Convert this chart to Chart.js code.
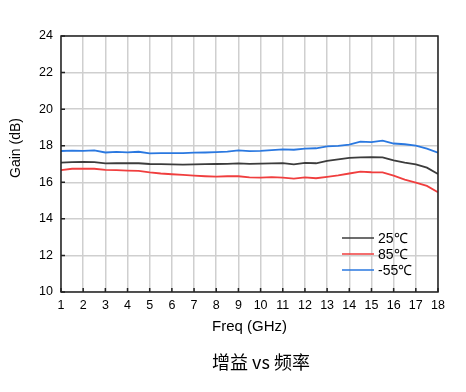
<!DOCTYPE html>
<html>
<head>
<meta charset="utf-8">
<script src="https://cdn.jsdelivr.net/npm/chart.js@4"></script>
<style>
    body { margin: 0; background: #fff; }
    canvas { display: block; }
</style>
</head>
<body>
<canvas id="gainChart" width="466" height="392"></canvas>
<script>
// frequency points (GHz)
const freqs = [1, 1.5, 2, 2.5, 3, 3.5, 4, 4.5, 5, 5.5, 6, 6.5, 7, 7.5, 8, 8.5, 9, 9.5,
    10, 10.5, 11, 11.5, 12, 12.5, 13, 13.5, 14, 14.5, 15, 15.5, 16, 16.5, 17, 17.5, 18];

// gain (dB)
const gain25 = [17.07, 17.10, 17.12, 17.10, 17.03, 17.05, 17.04, 17.04, 17.00, 16.99, 16.98, 16.97,
    16.98, 16.99, 17.00, 17.01, 17.03, 17.01, 17.02, 17.03, 17.05, 16.98, 17.06, 17.04,
    17.17, 17.25, 17.33, 17.36, 17.38, 17.36, 17.20, 17.08, 16.98, 16.80, 16.45];
const gain85 = [16.67, 16.74, 16.75, 16.74, 16.68, 16.66, 16.64, 16.62, 16.54, 16.48, 16.44, 16.40,
    16.36, 16.33, 16.31, 16.33, 16.33, 16.27, 16.26, 16.28, 16.25, 16.20, 16.27, 16.22,
    16.30, 16.38, 16.48, 16.58, 16.55, 16.54, 16.36, 16.15, 15.98, 15.80, 15.45];
const gainM55 = [17.71, 17.73, 17.72, 17.74, 17.63, 17.66, 17.64, 17.67, 17.58, 17.60, 17.60, 17.60,
    17.62, 17.63, 17.65, 17.68, 17.74, 17.70, 17.72, 17.76, 17.80, 17.78, 17.84, 17.86,
    17.96, 17.99, 18.06, 18.22, 18.20, 18.28, 18.12, 18.08, 18.00, 17.84, 17.62];

const seriesLabels = ['25℃', '85℃', '-55℃'];
const seriesColors = ['#3c3c3c', '#f03e3e', '#2a78e0'];
const xTitle = 'Freq (GHz)';
const yTitle = 'Gain (dB)';
const caption = '增益 vs 频率';

function toPoints(values) {
    let pts = [];
    for (let i = 0; i < values.length; i++) {
        pts.push({ x: freqs[i], y: values[i] });
    }
    return pts;
}

// box, inside tick marks, y title, legend and caption
const decorPlugin = {
    id: 'decor',
    afterDraw(chart) {
        const ctx = chart.ctx;
        const area = chart.chartArea;
        const xs = chart.scales.x;
        const ys = chart.scales.y;
        ctx.save();

        ctx.strokeStyle = '#222';
        ctx.lineWidth = 1.5;
        ctx.strokeRect(area.left, area.top, area.right - area.left, area.bottom - area.top);

        ctx.beginPath();
        xs.ticks.forEach(t => {
            let px = xs.getPixelForValue(t.value);
            ctx.moveTo(px, area.bottom);
            ctx.lineTo(px, area.bottom - 4);
        });
        ys.ticks.forEach(t => {
            let py = ys.getPixelForValue(t.value);
            ctx.moveTo(area.left, py);
            ctx.lineTo(area.left + 4, py);
        });
        ctx.stroke();

        ctx.fillStyle = '#000';
        ctx.font = '14px "Liberation Sans", Arial, sans-serif';
        ctx.textAlign = 'center';
        ctx.textBaseline = 'middle';
        ctx.translate(16.5, 148);
        ctx.rotate(-Math.PI / 2);
        ctx.fillText(yTitle, 0, 0);
        ctx.setTransform(1, 0, 0, 1, 0, 0);

        ctx.font = '14px "Liberation Sans", Arial, sans-serif';
        ctx.textAlign = 'left';
        chart.data.datasets.forEach((ds, i) => {
            let ly = 238 + i * 16;
            ctx.strokeStyle = ds.borderColor;
            ctx.lineWidth = 1.5;
            ctx.beginPath();
            ctx.moveTo(342, ly);
            ctx.lineTo(374, ly);
            ctx.stroke();
            ctx.fillStyle = '#000';
            ctx.fillText(ds.label, 378, ly + 1);
        });

        ctx.font = '18px "Noto Sans CJK SC", sans-serif';
        ctx.textAlign = 'center';
        ctx.fillText(caption, 261, 362);
        ctx.restore();
    }
};

function createChart(ctx) {
    return new Chart(ctx, {
        type: 'line',
        data: {
            datasets: seriesLabels.map((label, i) => ({
                label: label,
                data: toPoints([gain25, gain85, gainM55][i]),
                borderColor: seriesColors[i],
                borderWidth: 1.8,
                pointRadius: 0,
                fill: false,
                tension: 0
            }))
        },
        options: {
            responsive: false,
            animation: false,
            devicePixelRatio: 1,
            layout: {
                padding: { top: 36, right: 28, left: 0, bottom: 56 }
            },
            plugins: {
                legend: { display: false },
                title: { display: false },
                tooltip: { enabled: false }
            },
            scales: {
                x: {
                    type: 'linear',
                    min: 1,
                    max: 18,
                    ticks: {
                        stepSize: 1,
                        padding: 6,
                        color: '#000',
                        font: { family: '"Liberation Sans", Arial, sans-serif', size: 12.5 }
                    },
                    grid: { color: '#cfcfcf', lineWidth: 1.5, drawTicks: false },
                    border: { display: false },
                    title: {
                        display: true,
                        text: xTitle,
                        color: '#000',
                        padding: { top: 0, bottom: 0 },
                        font: { family: '"Liberation Sans", Arial, sans-serif', size: 15 }
                    },
                    afterFit(scale) { scale.height = 44; }
                },
                y: {
                    min: 10,
                    max: 24,
                    ticks: {
                        stepSize: 2,
                        padding: 8,
                        color: '#000',
                        font: { family: '"Liberation Sans", Arial, sans-serif', size: 12.5 }
                    },
                    grid: { color: '#cfcfcf', lineWidth: 1.5, drawTicks: false },
                    border: { display: false },
                    afterFit(scale) { scale.width = 61; }
                }
            }
        },
        plugins: [decorPlugin]
    });
}

var ctx = document.getElementById('gainChart').getContext('2d');
createChart(ctx);
</script>
</body>
</html>
